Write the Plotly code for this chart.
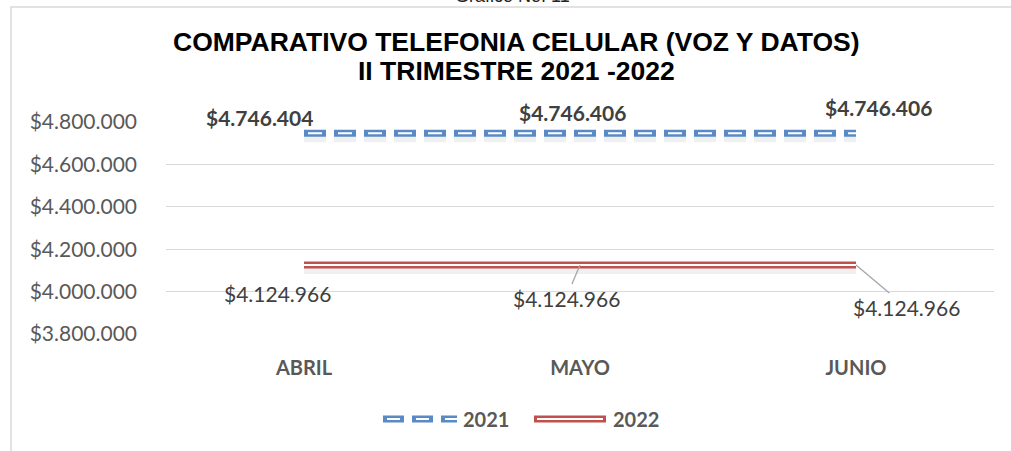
import plotly.graph_objects as go

# ---------------- data ----------------
categories = ["ABRIL", "MAYO", "JUNIO"]
values_2021 = [4746404, 4746406, 4746406]
values_2022 = [4124966, 4124966, 4124966]
labels_2021 = ["$4.746.404", "$4.746.406", "$4.746.406"]
labels_2022 = ["$4.124.966", "$4.124.966", "$4.124.966"]
series_names = ["2021", "2022"]
y_ticks = [3800000, 4000000, 4200000, 4400000, 4600000, 4800000]
y_tick_labels = ["$3.800.000", "$4.000.000", "$4.200.000", "$4.400.000", "$4.600.000", "$4.800.000"]
title_lines = ["COMPARATIVO TELEFONIA CELULAR (VOZ Y DATOS)", "II TRIMESTRE 2021 -2022"]
caption = "Grafico No. 11"

# ---------------- layout geometry ----------------
W, H = 1011, 451
PL, PR, PT, PB = 166, 994, 122, 334  # plot area in window pixels
ML, MR, MT, MB = PL, W - PR, PT, H - PB
PW, PH = W - ML - MR, H - MT - MB
Y0, Y1 = 3800000, 4800000
px_per_unit = PH / (Y1 - Y0)


def px_x(p):
    return (p - PL) / PW


def px_y(p):
    return (PB - p) / PH


BLUE = "#5A8AC6"
RED = "#C0504D"
GREY_TXT = "#595959"
FONT = "Lato"

fig = go.Figure()

shadow_off = 4 / px_per_unit
x_idx = list(range(len(categories)))

# 2021 shadow, outer, inner
fig.add_trace(go.Scatter(x=x_idx, y=[v - shadow_off for v in values_2021], mode="lines",
                         line=dict(color="rgba(0,0,0,0.06)", width=10, dash="22px,8px"),
                         hoverinfo="skip", showlegend=False))
fig.add_trace(go.Scatter(x=x_idx, y=values_2021, mode="lines", name=series_names[0],
                         line=dict(color=BLUE, width=7, dash="22px,8px"), showlegend=False))
fig.add_trace(go.Scatter(x=x_idx, y=values_2021, mode="lines",
                         line=dict(color="white", width=2, dash="0px,4px,14px,12px"),
                         hoverinfo="skip", showlegend=False))
# 2022 shadow, outer, inner
fig.add_trace(go.Scatter(x=x_idx, y=[v - shadow_off for v in values_2022], mode="lines",
                         line=dict(color="rgba(0,0,0,0.06)", width=10),
                         hoverinfo="skip", showlegend=False))
fig.add_trace(go.Scatter(x=x_idx, y=values_2022, mode="lines", name=series_names[1],
                         line=dict(color=RED, width=7), showlegend=False))
fig.add_trace(go.Scatter(x=x_idx, y=values_2022, mode="lines",
                         line=dict(color="white", width=2),
                         hoverinfo="skip", showlegend=False))

annotations = []
# data labels 2021 (bold)
shifts_2021 = [(-45, 16), (-8, 21), (22, 26)]
for i, (lab, v) in enumerate(zip(labels_2021, values_2021)):
    dx, dy = shifts_2021[i]
    annotations.append(dict(x=i, y=v, xref="x", yref="y", text="<b>" + lab + "</b>", showarrow=False,
                            xshift=dx, yshift=dy, font=dict(family=FONT, size=21, color="#404040")))
# data labels 2022 (with leader lines for MAYO, JUNIO)
offs_2022 = [(-27, 28, False), (-14, 33, True), (50, 42, True)]
for i, (lab, v) in enumerate(zip(labels_2022, values_2022)):
    dx, dy, arrow = offs_2022[i]
    if arrow:
        annotations.append(dict(x=i, y=v, xref="x", yref="y", text=lab, showarrow=True,
                                ax=dx, ay=dy, arrowhead=0, arrowwidth=1.3, arrowcolor="#A6A6A6",
                                standoff=0, font=dict(family=FONT, size=21, color="#404040")))
    else:
        annotations.append(dict(x=i, y=v, xref="x", yref="y", text=lab, showarrow=False,
                                xshift=dx, yshift=-dy, font=dict(family=FONT, size=21, color="#404040")))

# title
annotations.append(dict(x=px_x(516), y=px_y(42), xref="paper", yref="paper", text="<b>" + title_lines[0] + "</b>",
                        showarrow=False, xanchor="center", yanchor="middle",
                        font=dict(family="Liberation Sans", size=26.5, color="black")))
annotations.append(dict(x=px_x(516), y=px_y(71), xref="paper", yref="paper", text="<b>" + title_lines[1] + "</b>",
                        showarrow=False, xanchor="center", yanchor="middle",
                        font=dict(family="Liberation Sans", size=26.5, color="black")))
# caption above frame (partly cut, as in the reference)
annotations.append(dict(x=px_x(512), y=px_y(-4), xref="paper", yref="paper", text=caption,
                        showarrow=False, xanchor="center", yanchor="middle",
                        font=dict(family="Liberation Sans", size=18, color="#222222")))

shapes = []
# frame
shapes.append(dict(type="rect", xref="paper", yref="paper", x0=px_x(11), x1=px_x(1030), y0=px_y(480), y1=px_y(7),
                   line=dict(color="#D9D9D9", width=1.5), fillcolor="rgba(0,0,0,0)", layer="below"))
# manual legend
leg_y = px_y(419)
shapes.append(dict(type="line", xref="paper", yref="paper", x0=px_x(383), x1=px_x(457), y0=leg_y, y1=leg_y,
                   line=dict(color=BLUE, width=7, dash="21px,8px")))
shapes.append(dict(type="line", xref="paper", yref="paper", x0=px_x(383), x1=px_x(457), y0=leg_y, y1=leg_y,
                   line=dict(color="white", width=2, dash="0px,4px,13px,12px")))
shapes.append(dict(type="line", xref="paper", yref="paper", x0=px_x(534), x1=px_x(606), y0=leg_y, y1=leg_y,
                   line=dict(color=RED, width=7)))
shapes.append(dict(type="line", xref="paper", yref="paper", x0=px_x(537), x1=px_x(603), y0=leg_y, y1=leg_y,
                   line=dict(color="white", width=2)))
annotations.append(dict(x=px_x(461), y=leg_y, xref="paper", yref="paper", text="<b>" + series_names[0] + "</b>",
                        showarrow=False, xanchor="left", yanchor="middle",
                        font=dict(family=FONT, size=20, color=GREY_TXT)))
annotations.append(dict(x=px_x(611), y=leg_y, xref="paper", yref="paper", text="<b>" + series_names[1] + "</b>",
                        showarrow=False, xanchor="left", yanchor="middle",
                        font=dict(family=FONT, size=20, color=GREY_TXT)))

fig.update_layout(
    width=W, height=H,
    margin=dict(l=ML, r=MR, t=MT, b=MB, autoexpand=False),
    paper_bgcolor="white", plot_bgcolor="white",
    showlegend=False,
    annotations=annotations,
    shapes=shapes,
    xaxis=dict(range=[-0.5, 2.5], tickmode="array", tickvals=x_idx,
               ticktext=["<b>" + c + "</b>" for c in categories],
               showgrid=False, zeroline=False, showline=False, ticks="",
               ticklabelstandoff=20,
               tickfont=dict(family=FONT, size=20, color=GREY_TXT), fixedrange=True),
    yaxis=dict(range=[Y0, Y1], tickmode="array", tickvals=y_ticks, ticktext=y_tick_labels,
               showgrid=True, gridcolor="#D9D9D9", gridwidth=1.3, zeroline=False, showline=False,
               ticks="", ticklabelstandoff=28,
               tickfont=dict(family=FONT, size=21, color=GREY_TXT), fixedrange=True),
)

fig.write_html("out.html", config={"displayModeBar": False},
               post_script="document.body.style.margin='0';document.body.style.overflow='hidden';")
